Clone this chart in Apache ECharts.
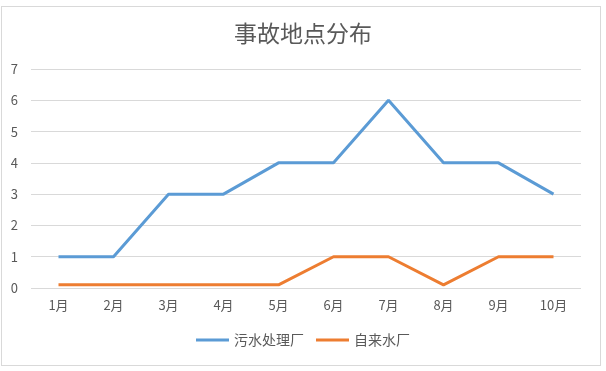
<!DOCTYPE html>
<html><head><meta charset="utf-8">
<script src="https://cdn.jsdelivr.net/npm/echarts@6/dist/echarts.min.js"></script>
<style>html,body{margin:0;padding:0;background:#fff;}#frame{position:absolute;left:1px;top:6px;width:600px;height:360px;border:1px solid #d9d9d9;box-sizing:border-box;}#c{width:606px;height:371px;position:absolute;left:0;top:0;}</style>
</head><body><div id="frame"></div><div id="c"></div>
<script>
const categories = ['1月','2月','3月','4月','5月','6月','7月','8月','9月','10月'];
const sewage = [1,1,3,3,4,4,6,4,4,3];
const water = [0.1,0.1,0.1,0.1,0.1,1,1,0.1,1,1];
const yTicks = [0,1,2,3,4,5,6,7];
const font = '"Noto Sans CJK SC", "Noto Sans", sans-serif';
const chart = echarts.init(document.getElementById('c'), null, {renderer:'canvas'});
chart.setOption({
  animation:false,
  title:{text:'事故地点分布',left:'center',top:17,textStyle:{fontFamily:font,fontSize:23,fontWeight:'normal',color:'#595959'}},
  grid:{left:31,right:25,top:69,bottom:83},
  legend:{bottom:19,left:'center',itemWidth:33,itemHeight:3,itemGap:12,textStyle:{fontFamily:font,fontSize:14,color:'#595959'},data:['污水处理厂','自来水厂'],icon:'rect'},
  xAxis:{type:'category',data:categories,boundaryGap:true,axisLine:{show:false},axisTick:{show:false},axisLabel:{fontFamily:font,fontSize:13,color:'#595959',margin:11}},
  yAxis:{type:'value',min:yTicks[0],max:yTicks[yTicks.length-1],interval:1,axisLine:{show:false},axisTick:{show:false},splitLine:{lineStyle:{color:'#d9d9d9',width:1}},axisLabel:{fontFamily:font,fontSize:13,color:'#595959',margin:13}},
  series:[
    {name:'污水处理厂',type:'line',data:sewage,symbol:'none',lineStyle:{width:3,color:'#5B9BD5'},itemStyle:{color:'#5B9BD5'}},
    {name:'自来水厂',type:'line',data:water,symbol:'none',lineStyle:{width:3,color:'#ED7D31'},itemStyle:{color:'#ED7D31'}}
  ]
});
</script></body></html>
